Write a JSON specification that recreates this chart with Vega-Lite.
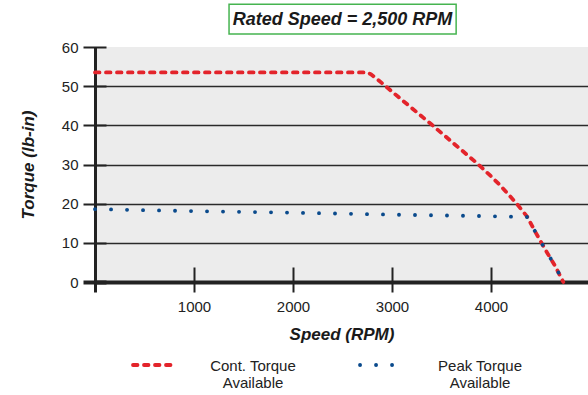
{
  "$schema": "https://vega.github.io/schema/vega-lite/v6.json",
  "width": 493,
  "height": 235,
  "autosize": {"type": "none"},
  "padding": {"left": 95, "top": 47, "right": 0, "bottom": 113},
  "background": "white",
  "config": {
    "view": {"fill": "#ececec", "stroke": null},
    "font": "Liberation Sans",
    "axis": {"labelColor": "#222", "titleColor": "#1a1a1a", "domainColor": "#222", "tickColor": "#222", "labelFontSize": 15, "labelOverlap": false}
  },
  "resolve": {"axis": {"x": "independent", "y": "independent"}},
  "layer": [
    {
      "data": {
        "values": [
          {"series": "Cont. Torque|Available", "rpm": 0, "torque": 53.5},
          {"series": "Cont. Torque|Available", "rpm": 2750, "torque": 53.5},
          {"series": "Cont. Torque|Available", "rpm": 2790, "torque": 53.0},
          {"series": "Cont. Torque|Available", "rpm": 2850, "torque": 51.8},
          {"series": "Cont. Torque|Available", "rpm": 3100, "torque": 46.5},
          {"series": "Cont. Torque|Available", "rpm": 3400, "torque": 40.2},
          {"series": "Cont. Torque|Available", "rpm": 3650, "torque": 34.8},
          {"series": "Cont. Torque|Available", "rpm": 3860, "torque": 30.3},
          {"series": "Cont. Torque|Available", "rpm": 4000, "torque": 27.0},
          {"series": "Cont. Torque|Available", "rpm": 4100, "torque": 24.5},
          {"series": "Cont. Torque|Available", "rpm": 4260, "torque": 20.0},
          {"series": "Cont. Torque|Available", "rpm": 4365, "torque": 16.7},
          {"series": "Cont. Torque|Available", "rpm": 4450, "torque": 12.7},
          {"series": "Cont. Torque|Available", "rpm": 4550, "torque": 8.2},
          {"series": "Cont. Torque|Available", "rpm": 4650, "torque": 4.0},
          {"series": "Cont. Torque|Available", "rpm": 4730, "torque": 0},
          {"series": "Peak Torque|Available", "rpm": 0, "torque": 18.6},
          {"series": "Peak Torque|Available", "rpm": 1000, "torque": 18.1},
          {"series": "Peak Torque|Available", "rpm": 2000, "torque": 17.7},
          {"series": "Peak Torque|Available", "rpm": 3000, "torque": 17.2},
          {"series": "Peak Torque|Available", "rpm": 4000, "torque": 16.8},
          {"series": "Peak Torque|Available", "rpm": 4365, "torque": 16.6},
          {"series": "Peak Torque|Available", "rpm": 4450, "torque": 12.7},
          {"series": "Peak Torque|Available", "rpm": 4550, "torque": 8.2},
          {"series": "Peak Torque|Available", "rpm": 4650, "torque": 4.0},
          {"series": "Peak Torque|Available", "rpm": 4730, "torque": 0}
        ]
      },
      "mark": {"type": "line", "strokeCap": "round", "strokeJoin": "round", "strokeWidth": 3.8},
      "encoding": {
        "x": {
          "field": "rpm", "type": "quantitative",
          "scale": {"domain": [0, 4980], "nice": false, "zero": false},
          "axis": {
            "values": [0, 1000, 2000, 3000, 4000],
            "labelExpr": "datum.value == 0 ? '' : format(datum.value, 'd')",
            "grid": false,
            "domainWidth": 4,
            "tickSize": 10,
            "tickWidth": {"condition": {"test": "datum.value == 0", "value": 3}, "value": 2},
            "labelFontSize": 15,
            "labelPadding": 7,
            "title": "Speed (RPM)",
            "titleFontSize": 17,
            "titleFontStyle": "italic",
            "titleFontWeight": "bold",
            "titlePadding": 12,
            "encoding": {"ticks": {"y": {"value": -15}}}
          }
        },
        "y": {
          "field": "torque", "type": "quantitative",
          "scale": {"domain": [0, 60], "nice": false},
          "axis": {
            "values": [0, 10, 20, 30, 40, 50, 60],
            "grid": true,
            "gridColor": {"condition": {"test": "datum.value == 60 || datum.value == 0", "value": "transparent"}, "value": "#2a2a2a"},
            "gridWidth": 1.5,
            "domainWidth": 3,
            "tickSize": 12,
            "tickWidth": {"condition": {"test": "datum.value == 0", "value": 4}, "value": 2},
            "labelFontSize": 15,
            "labelPadding": 5,
            "title": "Torque (lb-in)",
            "titleFontSize": 17,
            "titleFontStyle": "italic",
            "titleFontWeight": "bold",
            "titlePadding": 24,
            "encoding": {"ticks": {"x": {"value": 11}}}
          }
        },
        "color": {
          "field": "series", "type": "nominal",
          "scale": {"domain": ["Cont. Torque|Available", "Peak Torque|Available"], "range": ["#e3242b", "#0a4a8c"]},
          "legend": {
            "orient": "none",
            "legendX": 36,
            "legendY": 296,
            "direction": "horizontal",
            "title": null,
            "symbolType": "stroke",
            "symbolSize": 1600,
            "symbolStrokeWidth": 3.8,
            "labelAlign": "center",
            "labelBaseline": "middle",
            "labelOffset": 78,
            "labelFontSize": 15,
            "labelColor": "#222",
            "labelLimit": 0,
            "columnPadding": 56,
            "labelExpr": "split(datum.label, '|')",
            "encoding": {"symbols": {"strokeCap": {"value": "round"}}, "labels": {"dy": {"value": 1}}}
          }
        },
        "strokeDash": {
          "field": "series", "type": "nominal",
          "scale": {"domain": ["Cont. Torque|Available", "Peak Torque|Available"], "range": [[4.5, 6.5], [0.1, 15.9]]}
        }
      }
    },
    {
      "data": {"values": [{"label": "Rated Speed = 2,500 RPM"}]},
      "mark": {"type": "rect", "fill": "white", "stroke": "#46b450", "strokeWidth": 1.5},
      "encoding": {
        "x": {"datum": 1354, "type": "quantitative", "axis": null},
        "x2": {"datum": 3648},
        "y": {"datum": 70.9, "type": "quantitative", "axis": null},
        "y2": {"datum": 63.3}
      }
    },
    {
      "data": {"values": [{"label": "Rated Speed = 2,500 RPM"}]},
      "mark": {"type": "text", "fontSize": 18, "fontWeight": "bold", "fontStyle": "italic", "color": "#1a1a1a", "baseline": "middle", "align": "center"},
      "encoding": {
        "x": {"datum": 2500, "type": "quantitative", "axis": null},
        "y": {"datum": 67.0, "type": "quantitative", "axis": null},
        "text": {"field": "label"}
      }
    }
  ]
}
